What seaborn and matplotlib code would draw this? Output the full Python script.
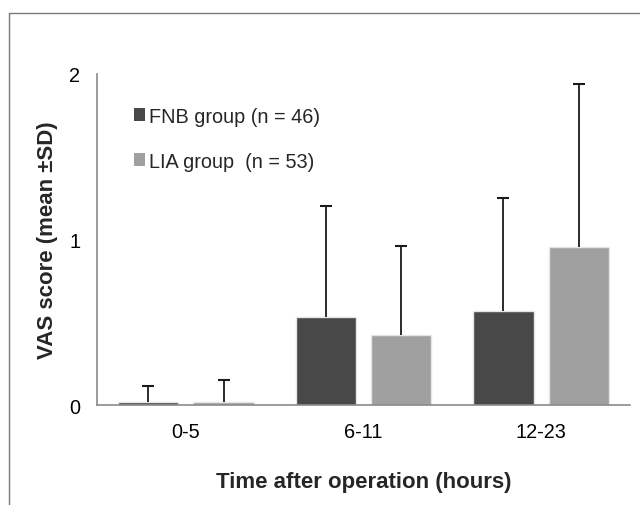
import matplotlib
matplotlib.use("Agg")
import matplotlib.pyplot as plt
import seaborn as sns
import pandas as pd
from matplotlib.lines import Line2D
from matplotlib.patches import Patch

# data
times = ["0-5", "6-11", "12-23"]
groups = ["FNB group (n = 46)", "LIA group  (n = 53)"]
fnb_mean = [0.02, 0.53, 0.57]
lia_mean = [0.02, 0.42, 0.955]
fnb_sd = [0.095, 0.67, 0.68]
lia_sd = [0.13, 0.54, 0.985]
colors = ["#484848", "#a0a0a0"]

df = pd.DataFrame({
    "time": times * 2,
    "group": [groups[0]] * 3 + [groups[1]] * 3,
    "mean": fnb_mean + lia_mean,
    "sd": fnb_sd + lia_sd,
})

sns.set_style("white")
plt.rcParams["font.family"] = ["Liberation Sans", "DejaVu Sans"]

fig = plt.figure(figsize=(6.4, 5.06), dpi=100)
ax = fig.add_axes([97 / 640, 1 - 406 / 506, (630 - 97) / 640, (406 - 75) / 506])

sns.barplot(data=df, x="time", y="mean", hue="group", palette=colors,
            width=0.85, gap=0.2, errorbar=None, edgecolor="#e6e6e6",
            linewidth=1, ax=ax, legend=False)

# upward-only SD bars at the bar centres
sds = fnb_sd + lia_sd
for bar, sd in zip(ax.patches, sds):
    xc = bar.get_x() + bar.get_width() / 2
    h = bar.get_height()
    ax.vlines(xc, h, h + sd, color="#1a1a1a", lw=1.3)
    ax.plot([xc], [h + sd], marker="_", ms=9, mew=1.5, color="#1a1a1a")

ax.set_ylim(0, 2)
ax.set_xlim(-0.5, 2.5)
ax.set_yticks([0, 1, 2])
ax.set_yticklabels(["0", "1", "2"])
ax.tick_params(axis="both", length=0, labelsize=14.3, colors="black")
ax.tick_params(axis="y", pad=12)
ax.tick_params(axis="x", pad=12)
for s in ["top", "right"]:
    ax.spines[s].set_visible(False)
for s in ["left", "bottom"]:
    ax.spines[s].set_color("#8a8a8a")
    ax.spines[s].set_linewidth(1.2)

ax.set_xlabel("Time after operation (hours)", fontsize=16, fontweight="bold", labelpad=22)
ax.set_ylabel("VAS score (mean ±SD)", fontsize=16, fontweight="bold", labelpad=8)

handles = [Patch(facecolor=c, edgecolor="none") for c in colors]
ax.legend(handles, groups, loc="upper left", bbox_to_anchor=(0.035, 0.955),
          frameon=False, fontsize=14.3, handlelength=0.6, handleheight=0.6,
          handletextpad=0.2, labelspacing=1.3)

# outer frame (clipped on right and bottom)
fig.add_artist(Line2D([9 / 640, 9 / 640], [0, 1 - 14 / 506], color="#7a7a7a", lw=1))
fig.add_artist(Line2D([9 / 640, 1], [1 - 14 / 506, 1 - 14 / 506], color="#7a7a7a", lw=1))

fig.savefig("out.png", dpi=100)
